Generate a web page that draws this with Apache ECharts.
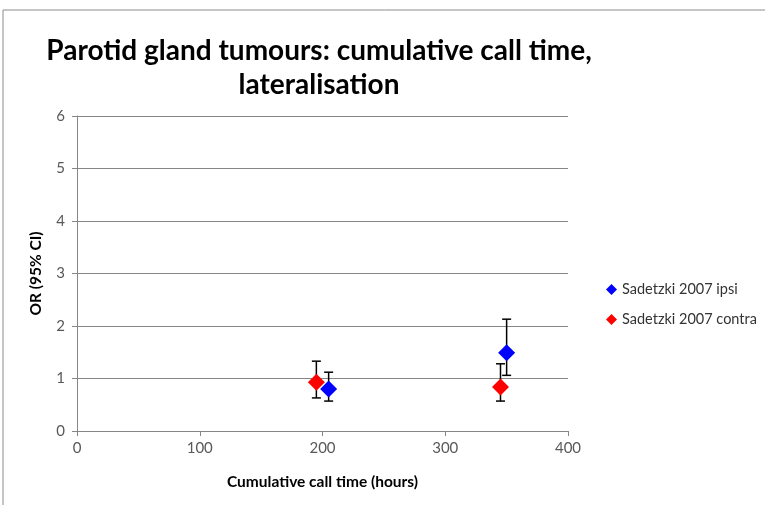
<!DOCTYPE html>
<html>
<head>
<meta charset="utf-8">
<script src="https://cdn.jsdelivr.net/npm/echarts@6/dist/echarts.min.js"></script>
<style>
  html, body { margin: 0; padding: 0; background: #fff; }
  #chart { width: 765px; height: 505px; }
</style>
</head>
<body>
<div id="chart"></div>
<script>
// data
var ipsiName = 'Sadetzki 2007 ipsi';
var ipsiX = [205, 350];
var ipsiOR = [0.80, 1.49];
var ipsiLo = [0.57, 1.06];
var ipsiHi = [1.12, 2.13];

var contraName = 'Sadetzki 2007 contra';
var contraX = [195, 345];
var contraOR = [0.93, 0.84];
var contraLo = [0.63, 0.57];
var contraHi = [1.33, 1.28];

var font = 'Lato, "Open Sans", sans-serif';

function pts(xs, ys) {
    var out = [];
    for (var i = 0; i < xs.length; i++) out.push([xs[i], ys[i]]);
    return out;
}
function bars(xs, lo, hi) {
    var out = [];
    for (var i = 0; i < xs.length; i++) out.push([xs[i], lo[i], hi[i]]);
    return out;
}

function errorBar(params, api) {
    var x = api.value(0);
    var top = api.coord([x, api.value(2)]);
    var bot = api.coord([x, api.value(1)]);
    var w = 4.5;
    var st = { stroke: '#000', lineWidth: 1.5 };
    return {
        type: 'group',
        children: [
            { type: 'line', shape: { x1: top[0], y1: top[1], x2: bot[0], y2: bot[1] }, style: st },
            { type: 'line', shape: { x1: top[0] - w, y1: top[1], x2: top[0] + w, y2: top[1] }, style: st },
            { type: 'line', shape: { x1: bot[0] - w, y1: bot[1], x2: bot[0] + w, y2: bot[1] }, style: st }
        ]
    };
}

var myChart = echarts.init(document.getElementById('chart'));
var option = {
    animation: false,
    backgroundColor: '#fff',
    title: {
        text: 'Parotid gland tumours: cumulative call time,\nlateralisation',
        left: 314,
        top: 29,
        textAlign: 'center',
        textStyle: { fontFamily: font, fontSize: 28, fontWeight: 'bold', color: '#000', lineHeight: 34 }
    },
    graphic: [{
        type: 'rect',
        shape: { x: 3, y: 10, width: 800, height: 600 },
        style: { fill: 'none', stroke: '#8c8c8c', lineWidth: 1 },
        silent: true
    }],
    legend: {
        orient: 'vertical',
        left: 601,
        top: 277,
        itemGap: 15,
        itemWidth: 11,
        itemHeight: 11,
        data: [
            { name: ipsiName, icon: 'diamond', itemStyle: { opacity: 1 } },
            { name: contraName, icon: 'diamond', itemStyle: { opacity: 1 } }
        ],
        textStyle: { fontFamily: font, fontSize: 14.5, color: '#333' }
    },
    grid: { left: 77, right: 197, top: 116, bottom: 74 },
    xAxis: {
        type: 'value',
        min: 0, max: 400, interval: 100,
        name: 'Cumulative call time (hours)',
        nameLocation: 'middle',
        nameGap: 43,
        nameTextStyle: { fontFamily: font, fontSize: 15.5, fontWeight: 'bold', color: '#000' },
        axisLine: { show: true, lineStyle: { color: '#868686' } },
        axisTick: { show: true, length: 5, lineStyle: { color: '#868686' } },
        axisLabel: { fontFamily: font, fontSize: 15, color: '#595959', margin: 10 },
        splitLine: { show: false }
    },
    yAxis: {
        type: 'value',
        min: 0, max: 6, interval: 1,
        name: 'OR (95% CI)',
        nameLocation: 'middle',
        nameGap: 33,
        nameTextStyle: { fontFamily: font, fontSize: 15.5, fontWeight: 'bold', color: '#000' },
        axisLine: { show: true, lineStyle: { color: '#868686' } },
        axisTick: { show: true, length: 5, lineStyle: { color: '#868686' } },
        axisLabel: { fontFamily: font, fontSize: 15, color: '#595959', margin: 12 },
        splitLine: { show: true, lineStyle: { color: '#868686', width: 1 } }
    },
    series: [
        {
            type: 'custom',
            renderItem: errorBar,
            data: bars(ipsiX, ipsiLo, ipsiHi),
            z: 1,
            silent: true
        },
        {
            type: 'custom',
            renderItem: errorBar,
            data: bars(contraX, contraLo, contraHi),
            z: 1,
            silent: true
        },
        {
            name: ipsiName,
            type: 'scatter',
            symbol: 'diamond',
            symbolSize: 17,
            itemStyle: { color: '#0000ff', opacity: 1 },
            data: pts(ipsiX, ipsiOR),
            z: 3
        },
        {
            name: contraName,
            type: 'scatter',
            symbol: 'diamond',
            symbolSize: 17,
            itemStyle: { color: '#ff0000', opacity: 1 },
            data: pts(contraX, contraOR),
            z: 3
        }
    ]
};
myChart.setOption(option);
</script>
</body>
</html>
